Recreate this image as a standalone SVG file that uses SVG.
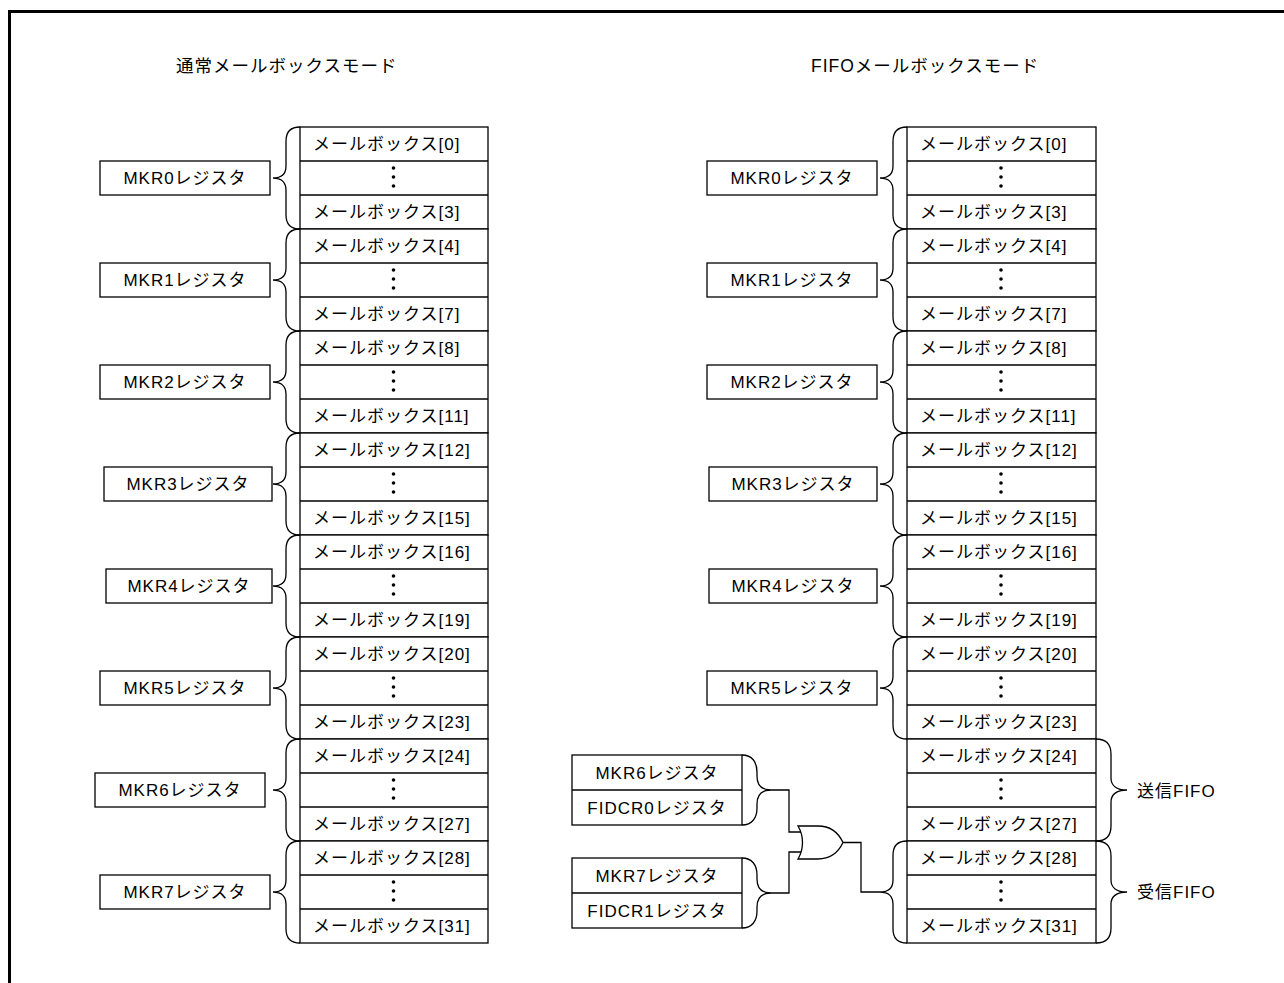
<svg xmlns="http://www.w3.org/2000/svg" xmlns:xlink="http://www.w3.org/1999/xlink" width="1284" height="983" viewBox="0 0 1284 983">
<style>
  text { font-family: "Liberation Sans", "Noto Sans CJK JP", sans-serif; font-size: 17px; letter-spacing: 1px; fill: #000; }
  .title { font-size: 17.5px; letter-spacing: 1px; }
  .mid { text-anchor: middle; }
  .box { fill: #fff; stroke: #000; stroke-width: 1.3; }
  .ln { fill: none; stroke: #000; stroke-width: 1.3; }
  .dot { fill: #000; }
  .frame { fill: none; stroke: #000; stroke-width: 3; }
</style>
<defs>
  <path id="braceL" class="ln" d="M 0,0 C -9,0 -14,5 -14,14 L -14,39 C -14,46 -18,51 -27,51 C -18,51 -14,56 -14,63 L -14,88 C -14,97 -9,102 0,102"/>
  <path id="braceR" class="ln" d="M 0,0 C 10,0 15,5 15,15 L 15,39 C 15,46 20,51 31,51 C 20,51 15,56 15,63 L 15,87 C 15,97 10,102 0,102"/>
  <path id="braceP" class="ln" d="M 0,0 C 10,0 15,7 15,17 L 15,21 C 15,30 20,35 29,35 C 20,35 15,40 15,49 L 15,53 C 15,63 10,70 0,70"/>
  <g id="dots">
    <circle class="dot" cx="0" cy="0" r="1.8"/>
    <circle class="dot" cx="0" cy="9" r="1.8"/>
    <circle class="dot" cx="0" cy="18" r="1.8"/>
  </g>
</defs>

<path class="frame" d="M 9.5,983 L 9.5,11.5 L 1284,11.5"/>

<text id="title-normal" class="title" x="176" y="72">通常メールボックスモード</text>
<text id="title-fifo" class="title" x="811" y="72">FIFOメールボックスモード</text>

<!-- Normal mode mailboxes -->
<g id="n-mb0">
  <rect class="box" x="300" y="127" width="188" height="102"/>
  <line class="ln" x1="300" y1="161" x2="488" y2="161"/><line class="ln" x1="300" y1="195" x2="488" y2="195"/>
  <text x="313" y="150">メールボックス[0]</text><use href="#dots" x="393.5" y="168"/><text x="313" y="218">メールボックス[3]</text>
</g>
<g id="n-mb1">
  <rect class="box" x="300" y="229" width="188" height="102"/>
  <line class="ln" x1="300" y1="263" x2="488" y2="263"/><line class="ln" x1="300" y1="297" x2="488" y2="297"/>
  <text x="313" y="252">メールボックス[4]</text><use href="#dots" x="393.5" y="270"/><text x="313" y="320">メールボックス[7]</text>
</g>
<g id="n-mb2">
  <rect class="box" x="300" y="331" width="188" height="102"/>
  <line class="ln" x1="300" y1="365" x2="488" y2="365"/><line class="ln" x1="300" y1="399" x2="488" y2="399"/>
  <text x="313" y="354">メールボックス[8]</text><use href="#dots" x="393.5" y="372"/><text x="313" y="422">メールボックス[11]</text>
</g>
<g id="n-mb3">
  <rect class="box" x="300" y="433" width="188" height="102"/>
  <line class="ln" x1="300" y1="467" x2="488" y2="467"/><line class="ln" x1="300" y1="501" x2="488" y2="501"/>
  <text x="313" y="456">メールボックス[12]</text><use href="#dots" x="393.5" y="474"/><text x="313" y="524">メールボックス[15]</text>
</g>
<g id="n-mb4">
  <rect class="box" x="300" y="535" width="188" height="102"/>
  <line class="ln" x1="300" y1="569" x2="488" y2="569"/><line class="ln" x1="300" y1="603" x2="488" y2="603"/>
  <text x="313" y="558">メールボックス[16]</text><use href="#dots" x="393.5" y="576"/><text x="313" y="626">メールボックス[19]</text>
</g>
<g id="n-mb5">
  <rect class="box" x="300" y="637" width="188" height="102"/>
  <line class="ln" x1="300" y1="671" x2="488" y2="671"/><line class="ln" x1="300" y1="705" x2="488" y2="705"/>
  <text x="313" y="660">メールボックス[20]</text><use href="#dots" x="393.5" y="678"/><text x="313" y="728">メールボックス[23]</text>
</g>
<g id="n-mb6">
  <rect class="box" x="300" y="739" width="188" height="102"/>
  <line class="ln" x1="300" y1="773" x2="488" y2="773"/><line class="ln" x1="300" y1="807" x2="488" y2="807"/>
  <text x="313" y="762">メールボックス[24]</text><use href="#dots" x="393.5" y="780"/><text x="313" y="830">メールボックス[27]</text>
</g>
<g id="n-mb7">
  <rect class="box" x="300" y="841" width="188" height="102"/>
  <line class="ln" x1="300" y1="875" x2="488" y2="875"/><line class="ln" x1="300" y1="909" x2="488" y2="909"/>
  <text x="313" y="864">メールボックス[28]</text><use href="#dots" x="393.5" y="882"/><text x="313" y="932">メールボックス[31]</text>
</g>

<!-- Normal mode registers -->
<g id="n-mkr0"><rect class="box" x="100" y="161" width="170" height="34"/><text class="mid" x="185" y="184">MKR0レジスタ</text></g>
<g id="n-mkr1"><rect class="box" x="100" y="263" width="170" height="34"/><text class="mid" x="185" y="286">MKR1レジスタ</text></g>
<g id="n-mkr2"><rect class="box" x="100" y="365" width="170" height="34"/><text class="mid" x="185" y="388">MKR2レジスタ</text></g>
<g id="n-mkr3"><rect class="box" x="104" y="467" width="168" height="34"/><text class="mid" x="188" y="490">MKR3レジスタ</text></g>
<g id="n-mkr4"><rect class="box" x="106" y="569" width="166" height="34"/><text class="mid" x="189" y="592">MKR4レジスタ</text></g>
<g id="n-mkr5"><rect class="box" x="100" y="671" width="170" height="34"/><text class="mid" x="185" y="694">MKR5レジスタ</text></g>
<g id="n-mkr6"><rect class="box" x="95" y="773" width="170" height="34"/><text class="mid" x="180" y="796">MKR6レジスタ</text></g>
<g id="n-mkr7"><rect class="box" x="100" y="875" width="170" height="34"/><text class="mid" x="185" y="898">MKR7レジスタ</text></g>

<!-- FIFO mode mailboxes -->
<g id="f-mb0">
  <rect class="box" x="907" y="127" width="189" height="102"/>
  <line class="ln" x1="907" y1="161" x2="1096" y2="161"/><line class="ln" x1="907" y1="195" x2="1096" y2="195"/>
  <text x="920" y="150">メールボックス[0]</text><use href="#dots" x="1001" y="168"/><text x="920" y="218">メールボックス[3]</text>
</g>
<g id="f-mb1">
  <rect class="box" x="907" y="229" width="189" height="102"/>
  <line class="ln" x1="907" y1="263" x2="1096" y2="263"/><line class="ln" x1="907" y1="297" x2="1096" y2="297"/>
  <text x="920" y="252">メールボックス[4]</text><use href="#dots" x="1001" y="270"/><text x="920" y="320">メールボックス[7]</text>
</g>
<g id="f-mb2">
  <rect class="box" x="907" y="331" width="189" height="102"/>
  <line class="ln" x1="907" y1="365" x2="1096" y2="365"/><line class="ln" x1="907" y1="399" x2="1096" y2="399"/>
  <text x="920" y="354">メールボックス[8]</text><use href="#dots" x="1001" y="372"/><text x="920" y="422">メールボックス[11]</text>
</g>
<g id="f-mb3">
  <rect class="box" x="907" y="433" width="189" height="102"/>
  <line class="ln" x1="907" y1="467" x2="1096" y2="467"/><line class="ln" x1="907" y1="501" x2="1096" y2="501"/>
  <text x="920" y="456">メールボックス[12]</text><use href="#dots" x="1001" y="474"/><text x="920" y="524">メールボックス[15]</text>
</g>
<g id="f-mb4">
  <rect class="box" x="907" y="535" width="189" height="102"/>
  <line class="ln" x1="907" y1="569" x2="1096" y2="569"/><line class="ln" x1="907" y1="603" x2="1096" y2="603"/>
  <text x="920" y="558">メールボックス[16]</text><use href="#dots" x="1001" y="576"/><text x="920" y="626">メールボックス[19]</text>
</g>
<g id="f-mb5">
  <rect class="box" x="907" y="637" width="189" height="102"/>
  <line class="ln" x1="907" y1="671" x2="1096" y2="671"/><line class="ln" x1="907" y1="705" x2="1096" y2="705"/>
  <text x="920" y="660">メールボックス[20]</text><use href="#dots" x="1001" y="678"/><text x="920" y="728">メールボックス[23]</text>
</g>
<g id="f-mb6">
  <rect class="box" x="907" y="739" width="189" height="102"/>
  <line class="ln" x1="907" y1="773" x2="1096" y2="773"/><line class="ln" x1="907" y1="807" x2="1096" y2="807"/>
  <text x="920" y="762">メールボックス[24]</text><use href="#dots" x="1001" y="780"/><text x="920" y="830">メールボックス[27]</text>
</g>
<g id="f-mb7">
  <rect class="box" x="907" y="841" width="189" height="102"/>
  <line class="ln" x1="907" y1="875" x2="1096" y2="875"/><line class="ln" x1="907" y1="909" x2="1096" y2="909"/>
  <text x="920" y="864">メールボックス[28]</text><use href="#dots" x="1001" y="882"/><text x="920" y="932">メールボックス[31]</text>
</g>

<!-- FIFO mode registers -->
<g id="f-mkr0"><rect class="box" x="707" y="161" width="170" height="34"/><text class="mid" x="792" y="184">MKR0レジスタ</text></g>
<g id="f-mkr1"><rect class="box" x="707" y="263" width="170" height="34"/><text class="mid" x="792" y="286">MKR1レジスタ</text></g>
<g id="f-mkr2"><rect class="box" x="707" y="365" width="170" height="34"/><text class="mid" x="792" y="388">MKR2レジスタ</text></g>
<g id="f-mkr3"><rect class="box" x="709" y="467" width="168" height="34"/><text class="mid" x="793" y="490">MKR3レジスタ</text></g>
<g id="f-mkr4"><rect class="box" x="709" y="569" width="168" height="34"/><text class="mid" x="793" y="592">MKR4レジスタ</text></g>
<g id="f-mkr5"><rect class="box" x="707" y="671" width="170" height="34"/><text class="mid" x="792" y="694">MKR5レジスタ</text></g>
<g id="f-mkr6-fidcr0">
  <rect class="box" x="572" y="755" width="170" height="70"/>
  <line class="ln" x1="572" y1="790" x2="742" y2="790"/>
  <text class="mid" x="657" y="779">MKR6レジスタ</text>
  <text class="mid" x="657" y="814">FIDCR0レジスタ</text>
</g>
<g id="f-mkr7-fidcr1">
  <rect class="box" x="572" y="858" width="170" height="70"/>
  <line class="ln" x1="572" y1="893" x2="742" y2="893"/>
  <text class="mid" x="657" y="882">MKR7レジスタ</text>
  <text class="mid" x="657" y="917">FIDCR1レジスタ</text>
</g>
<g id="or-gate">
  <path class="box" d="M 798,826 L 818,826 C 831,826 839,834 843,842.5 C 839,851 831,859 818,859 L 798,859 C 804,849 804,836 798,826 Z"/>
</g>
<text id="label-tx" x="1137" y="797">送信FIFO</text>
<text id="label-rx" x="1137" y="898">受信FIFO</text>

<!-- Connectors: braces and wires -->
<g id="connectors">
  <use href="#braceL" x="300" y="127"/>
  <use href="#braceL" x="300" y="229"/>
  <use href="#braceL" x="300" y="331"/>
  <use href="#braceL" x="300" y="433"/>
  <use href="#braceL" x="300" y="535"/>
  <use href="#braceL" x="300" y="637"/>
  <use href="#braceL" x="300" y="739"/>
  <use href="#braceL" x="300" y="841"/>

  <use href="#braceL" x="907" y="127"/>
  <use href="#braceL" x="907" y="229"/>
  <use href="#braceL" x="907" y="331"/>
  <use href="#braceL" x="907" y="433"/>
  <use href="#braceL" x="907" y="535"/>
  <use href="#braceL" x="907" y="637"/>
  <use href="#braceL" x="907" y="841"/>

  <use href="#braceR" x="1096" y="739"/>
  <use href="#braceR" x="1096" y="841"/>

  <use href="#braceP" x="742" y="755"/>
  <use href="#braceP" x="742" y="858"/>

  <polyline class="ln" points="771,790 789,790 789,832 801,832"/>
  <polyline class="ln" points="771,893 789,893 789,852 801,852"/>
  <polyline class="ln" points="843,842.5 861,842.5 861,892 880,892"/>
</g>
</svg>
